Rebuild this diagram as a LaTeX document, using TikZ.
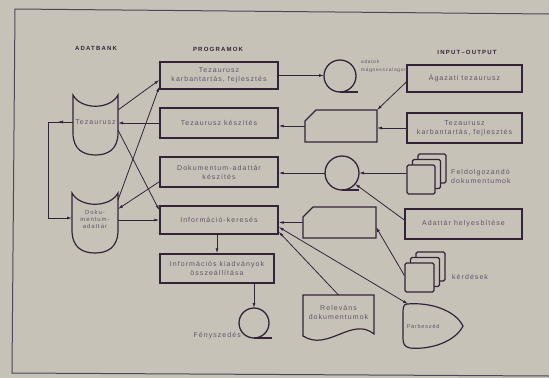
\documentclass[tikz,border=0pt]{standalone}
\usepackage{fontspec}
\setmainfont{Liberation Sans}
\newfontfamily\lblfont[LetterSpace=15]{Liberation Sans}
\newfontfamily\hdrfont[LetterSpace=20]{Liberation Sans}
\usetikzlibrary{arrows.meta}
\definecolor{bg}{RGB}{198,194,184}
\definecolor{ink}{RGB}{52,36,58}
\definecolor{txt}{RGB}{98,82,104}
\begin{document}
\begin{tikzpicture}[x=1pt,y=-1pt,
  lbl/.style={font=\lblfont\fontsize{7}{9}\selectfont, text=txt, align=center, inner sep=0pt},
  slbl/.style={font=\lblfont\fontsize{6}{7}\selectfont, text=txt, align=center, inner sep=0pt},
  tlbl/.style={font=\lblfont\fontsize{4.8}{8}\selectfont, text=txt, align=left, inner sep=0pt},
  hdr/.style={font=\hdrfont\bfseries\fontsize{6}{7}\selectfont, text=ink, inner sep=0pt},
  prog/.style={lbl, draw=ink, line width=1.4pt, minimum width=118pt, minimum height=28pt},
  area/.style={inner sep=0pt, outer sep=0pt},
  shp/.style={draw=ink, line width=1.2pt, fill=bg},
  tape/.style={circle, draw=ink, line width=1.3pt, inner sep=0pt, outer sep=0pt},
  conn/.style={draw=ink, line width=0.8pt, -{Latex[length=5pt,width=3pt]}},
  bconn/.style={conn, {Latex[length=5pt,width=3pt]}-{Latex[length=5pt,width=3pt]}},
]
\useasboundingbox[fill=bg] (0,0) rectangle (549,378);
% frame
\draw[ink!85, line width=1pt] (549,14) -- (15,9) -- (12,373) -- (549,376);

% headers
\node[hdr] (h1) at (96,48) {ADATBANK};
\node[hdr] (h2) at (218,49) {PROGRAMOK};
\node[hdr] (h3) at (467,52) {INPUT–OUTPUT};

% program boxes
\node[prog, minimum height=27pt] (b1) at (219,75.5) {Tezaurusz\\karbantartás, fejlesztés};
\node[prog, minimum height=30pt] (b2) at (219,123) {Tezaurusz készítés};
\node[prog, minimum height=30pt] (b3) at (219,172) {Dokumentum-adattár\\készítés};
\node[prog] (b4) at (219,220) {Információ-keresés};
\node[prog, minimum width=114pt, minimum height=29pt] (b5) at (217,268.5) {Információs kiadványok\\összeállítása};

% input-output boxes
\node[prog, minimum width=115pt, minimum height=27pt] (ag) at (464.5,78.5) {Ágazati tezaurusz};
\node[prog, minimum width=115pt, minimum height=30pt] (tkf) at (464.5,128) {Tezaurusz\\karbantartás, fejlesztés};
\node[prog, minimum width=117pt, minimum height=30pt] (ah) at (463.5,224) {Adattár helyesbítése};

% storage (adatbank)
\node[area, minimum width=45pt, minimum height=60pt] (ts) at (95.5,125) {};
\draw[shp] (73,95) -- (73,133) .. controls (73,150) and (84,155) .. (95.5,155)
  .. controls (107,155) and (118,150) .. (118,133) -- (118,95)
  .. controls (110,110) and (81,110) .. cycle;
\node[lbl] (tsl) at (95.5,122) {Tezaurusz};
\node[area, minimum width=46pt, minimum height=60pt] (ds) at (95,223) {};
\draw[shp] (72,193) -- (72,230) .. controls (72,248) and (83,253) .. (95,253)
  .. controls (107,253) and (118,248) .. (118,230) -- (118,193)
  .. controls (110,208) and (80,208) .. cycle;
\node[slbl] (dsl) at (95,219) {Doku-\\mentum-\\adattár};

% tapes
\node[tape, minimum size=32pt] (t1) at (340,76) {};
\draw[ink, line width=1.3pt] (t1.south) -- ++(18,0);
\node[tlbl, anchor=west] (t1l) at (361,66) {adatok\\mágnesszalagon};
\node[tape, minimum size=34pt] (t2) at (342,173) {};
\draw[ink, line width=1.3pt] (t2.south) -- ++(17,0);
\node[tape, minimum size=30pt] (t3) at (254,323) {};
\draw[ink, line width=1.3pt] (t3.south) -- ++(18,0);
\node[lbl, anchor=east] (t3l) at (241,336) {Fényszedés};

% cards
\node[area, minimum width=72pt, minimum height=32pt] (c1) at (341,126) {};
\draw[shp] (305,121) -- (316,110) -- (377,110) -- (377,142) -- (305,142) -- cycle;
\node[area, minimum width=73pt, minimum height=31pt] (c2) at (339.5,222.5) {};
\draw[shp] (303,217) -- (313,207) -- (376,207) -- (376,238) -- (303,238) -- cycle;

% document stacks
\draw[shp, rounded corners=1.5pt] (418,154) rectangle ++(28,29);
\draw[shp, rounded corners=1.5pt] (412.5,159.5) rectangle ++(28,29);
\node[shp, rounded corners=1.5pt, minimum width=28pt, minimum height=29pt, inner sep=0pt] (fd) at (421,179.5) {};
\node[lbl, anchor=west, align=left] (fdl) at (451,176) {Feldolgozandó\\dokumentumok};
\draw[shp, rounded corners=1.5pt] (416,252) rectangle ++(29,29);
\draw[shp, rounded corners=1.5pt] (410.5,257.5) rectangle ++(29,29);
\node[shp, rounded corners=1.5pt, minimum width=29pt, minimum height=29pt, inner sep=0pt] (kerd) at (419.5,277.5) {};
\node[lbl, anchor=west] (kerdl) at (452,277) {kérdések};

% relevant documents
\node[area, minimum width=71pt, minimum height=42pt] (rel) at (338.5,316) {};
\draw[shp] (303,295) -- (374,295) -- (374,334) .. controls (352,316) and (328,352) .. (303,336) -- cycle;
\node[lbl] (rell) at (338.5,312) {Releváns\\dokumentumok};

% dialogue (display)
\node[area, minimum width=60pt, minimum height=44pt] (par) at (433,326) {};
\draw[shp] (407,304) .. controls (430,302) and (455,310) .. (463,326)
  .. controls (455,342) and (430,350) .. (410,348)
  .. controls (404,347) and (403,343) .. (403,338) -- (403,312)
  .. controls (403,307) and (404,304) .. cycle;
\node[lbl, font=\lblfont\fontsize{5.5}{7}\selectfont] (parl) at (423,326) {Párbeszéd};

% connectors: data bank <-> programs
\draw[conn] (b2.west) -- (b2.west -| ts.east);
\draw[conn] ([yshift=-15pt]ts.north east) -- ([yshift=-4.5pt]b1.west);
\draw[conn] ([yshift=-35pt]ts.north east) -- ([yshift=-5pt]b4.north west);
\draw[conn] ([yshift=-7pt]ds.north east) -- ([yshift=3pt]b1.south west);
\draw[conn] ([yshift=6pt]b3.south west) -- ([yshift=-16pt]ds.north east);
\draw[conn] (ds.east |- b4.west) -- (b4.west);
\draw[conn] ([yshift=3pt]ts.west) -- ++(-25,0) |- ([yshift=5pt]ds.west);
\draw[ink, -{Latex[length=5pt,width=3pt]}] ([yshift=3pt, xshift=-8pt]ts.west) -- ([yshift=3pt, xshift=-15pt]ts.west);

% programs internal
\draw[conn] (b5.north |- b4.south) -- (b5.north);
\draw[conn] (t3.north |- b5.south) -- (t3.north);

% programs <-> input-output
\draw[conn] (b1.east) -- (b1.east -| t1.west);
\draw[conn] (c1.west) -- (c1.west -| b2.east);
\draw[conn] ([yshift=-3.5pt]ag.west) -- (c1.north east);
\draw[conn] (tkf.west) -- (tkf.west -| c1.east);
\draw[conn] (t2.west) -- (t2.west -| b3.east);
\draw[conn] (fd.west |- t2.east) -- (t2.east);
\draw[conn] ([yshift=4pt]ah.west) -- (t2.-40);
\draw[conn] (c2.west) -- (c2.west -| b4.east);
\draw[conn] ([yshift=2pt]kerd.west) -- ([yshift=-20pt]c2.north east);
\draw[conn] (rel.north) -- ([yshift=3pt]b4.south east);
\draw[bconn] ([yshift=-7pt]b4.east) -- ([xshift=5pt]par.north west);
\end{tikzpicture}
\end{document}
